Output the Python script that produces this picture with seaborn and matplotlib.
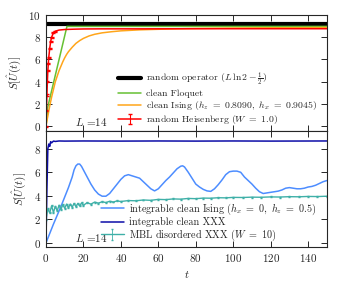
import numpy as np
import pandas as pd
import matplotlib
matplotlib.use("Agg")
import matplotlib.pyplot as plt
import seaborn as sns

sns.set_style("ticks")
plt.rcParams['font.family'] = 'serif'
plt.rcParams['font.serif'] = ['cmr10', 'DejaVu Serif']
plt.rcParams['mathtext.fontset'] = 'cm'
plt.rcParams['axes.unicode_minus'] = False
plt.rcParams['axes.formatter.use_mathtext'] = True

# ---- top panel data ----
t_rand = [0, 150]
s_rand = [9.2, 9.2]

t_floq = [0, 1, 11.2, 150]
s_floq = [0, 1.75, 8.98, 8.98]

t_ising = [0, 1, 2, 3, 4, 5, 6, 7, 8, 9, 10, 11, 12, 14, 16, 18, 20, 23, 26, 30,
           35, 40, 50, 60, 70, 80, 90, 100, 115, 130, 150]
s_ising = [0, 0.9, 1.8, 2.6, 3.3, 4.0, 4.5, 5.0, 5.4, 5.8, 6.15, 6.45, 6.7, 7.1, 7.45,
           7.7, 7.9, 8.12, 8.27, 8.4, 8.5, 8.58, 8.67, 8.72, 8.76, 8.79, 8.81, 8.83, 8.85,
           8.86, 8.88]

t_heis = [0, 0.25, 0.5, 0.75, 1, 1.25, 1.5, 2, 2.5, 3, 4, 5, 7, 10, 15, 20, 30,
          50, 75, 100, 125, 150]
s_heis = [0, 1.4, 2.8, 4.0, 5.0, 5.6, 6.2, 7.0, 7.6, 8.0, 8.4, 8.55, 8.65, 8.7, 8.73,
          8.75, 8.76, 8.76, 8.77, 8.77, 8.77, 8.77]

# ---- bottom panel data ----
t_iising = [0, 2, 4, 6, 8, 10, 12, 14, 15, 16, 17, 18, 19, 20, 22, 24, 26, 28, 30, 32,
            34, 36, 38, 40, 42, 44, 46, 48, 50, 52, 54, 56, 58, 60, 62, 64, 66, 68, 70,
            72, 73, 74, 76, 78, 80, 82, 84, 86, 88, 90, 92, 94, 96, 98, 100, 102, 104,
            106, 108, 110, 112, 114, 116, 118, 120, 122, 124, 126, 128, 130, 132, 134,
            136, 138, 140, 142, 144, 146, 148, 150]
s_iising = [0, 0.8, 1.6, 2.35, 3.1, 3.9, 4.7, 5.6, 6.2, 6.55, 6.7, 6.7, 6.5, 6.2, 5.6,
            5.0, 4.5, 4.15, 3.97, 3.97, 4.2, 4.6, 5.0, 5.4, 5.7, 5.8, 5.7, 5.6, 5.5, 5.2,
            4.9, 4.6, 4.42, 4.6, 4.95, 5.3, 5.6, 5.95, 6.3, 6.52, 6.55, 6.45, 6.0, 5.5,
            5.0, 4.75, 4.55, 4.42, 4.38, 4.6, 4.95, 5.35, 5.8, 6.05, 6.1, 6.1, 6.0, 5.6,
            5.3, 5.0, 4.65, 4.35, 4.2, 4.25, 4.3, 4.35, 4.4, 4.5, 4.65, 4.7, 4.65, 4.6,
            4.6, 4.65, 4.75, 4.8, 4.9, 5.05, 5.2, 5.3]

t_xxx = [0, 0.5, 1, 1.5, 2, 2.5, 3, 4, 5, 7, 10, 20, 40, 60, 80, 100, 120, 150]
s_xxx = [0, 4.5, 8.0, 8.4, 8.2, 8.6, 8.5, 8.65, 8.62, 8.66, 8.65, 8.66, 8.65, 8.66,
         8.65, 8.66, 8.65, 8.66]

t_mbl = [0, 1, 2, 3, 4, 5, 6, 7, 8, 9, 10, 11, 12, 13, 14, 15, 16, 17, 18, 19, 20,
         22, 24, 26, 28, 30, 32, 34, 36, 38, 40, 44, 48, 52, 56, 60, 64, 68, 72, 76,
         80, 84, 88, 92, 96, 100, 105, 110, 115, 120, 125, 130, 135, 140, 145, 150]
s_mbl = [2.0, 2.9, 2.55, 3.15, 2.6, 3.1, 2.75, 3.2, 2.85, 3.25, 2.95, 3.3, 3.0, 3.3,
         3.05, 3.35, 3.1, 3.35, 3.15, 3.4, 3.2, 3.42, 3.3, 3.47, 3.38, 3.5, 3.43, 3.54,
         3.48, 3.57, 3.52, 3.6, 3.58, 3.65, 3.62, 3.7, 3.68, 3.74, 3.72, 3.78, 3.76,
         3.81, 3.8, 3.84, 3.83, 3.87, 3.86, 3.89, 3.88, 3.91, 3.9, 3.93, 3.92, 3.95,
         3.94, 3.97]

fig, (ax1, ax2) = plt.subplots(2, 1, figsize=(3.38, 2.9), dpi=100, sharex=True)
fig.subplots_adjust(left=0.136, right=0.967, top=0.948, bottom=0.148, hspace=0)

sns.lineplot(x=t_rand, y=s_rand, ax=ax1, color='black', lw=3.0,
             label=r'random operator ($L\,\ln 2-\frac{1}{2}$)')
sns.lineplot(x=t_floq, y=s_floq, ax=ax1, color='#66c033', lw=1.1, label='clean Floquet')
sns.lineplot(x=t_ising, y=s_ising, ax=ax1, color='#ffa51a', lw=1.1,
             label=r'clean Ising ($h_z\ =\ 0.8090,\ h_x\ =\ 0.9045$)')
heis_bars = [t <= 5 for t in t_heis]
ax1.errorbar(t_heis, s_heis, yerr=0.05, errorevery=heis_bars, color='#ff0000',
             lw=1.1, capsize=1.6, elinewidth=0.8,
             label=r'random Heisenberg ($W\ =\ 1.0$)')

sns.lineplot(x=t_iising, y=s_iising, ax=ax2, color='#4d8dff', lw=1.1,
             label=r'integrable clean Ising ($h_x\ =\ 0,\ h_z\ =\ 0.5$)')
sns.lineplot(x=t_xxx, y=s_xxx, ax=ax2, color='#0d0da8', lw=1.1,
             label='integrable clean XXX')
ax2.errorbar(t_mbl, s_mbl, yerr=0.04, color='#3fb0a8', lw=1.0, capsize=0.8,
             elinewidth=0.6, label=r'MBL disordered XXX ($W\ =\ 10$)')

for ax in (ax1, ax2):
    ax.set_xlim(0, 150)
    ax.tick_params(direction='in', top=True, right=True, length=4, width=0.7,
                   labelsize=8)
    for sp in ax.spines.values():
        sp.set_linewidth(0.8)
    ax.set_ylabel(r'$S[\hat{U}(t)]$', fontsize=8)

ax1.legend(loc='lower right', bbox_to_anchor=(0.995, -0.035), frameon=False,
           fontsize=7.0, handlelength=2.3, handletextpad=0.5, labelspacing=0.12)
ax2.legend(loc='lower right', bbox_to_anchor=(0.995, -0.045), frameon=False,
           fontsize=7.3, handlelength=2.3, handletextpad=0.5, labelspacing=0.05)

ax1.set_ylim(-0.45, 10)
ax1.set_yticks([0, 2, 4, 6, 8, 10])
ax2.set_ylim(-0.35, 9.5)
ax2.set_yticks([0, 2, 4, 6, 8])
ax2.set_xticks(range(0, 160, 20))
ax2.set_xlabel(r'$t$', fontsize=8)
ax1.text(15.5, 0.05, r'$L$ =14', fontsize=8, va='baseline')
ax2.text(15.5, 0.05, r'$L$ =14', fontsize=8, va='baseline')

fig.savefig('out.png', dpi=100)
